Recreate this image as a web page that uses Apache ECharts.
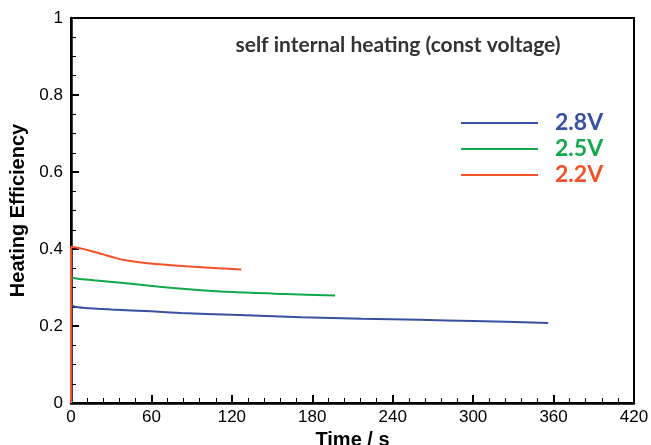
<!DOCTYPE html>
<html><head><meta charset="utf-8">
<script src="https://cdn.jsdelivr.net/npm/echarts@6/dist/echarts.min.js"></script>
<style>html,body{margin:0;padding:0;background:#fff}#c{width:651px;height:445px}</style>
</head><body><div id="c"></div>
<script>
var seriesNames = ['2.8V', '2.5V', '2.2V'];
var seriesColors = ['#3850a2', '#12a94c', '#f2522a'];
var blue28 = [[0,0.256],[3,0.250],[10,0.247],[30,0.243],[60,0.238],[82,0.234],[120,0.229],[172,0.223],[217,0.219],[260,0.216],[300,0.213],[356,0.208]];
var green25 = [[0,0.326],[5,0.323],[17,0.319],[41,0.311],[66,0.302],[90,0.295],[121,0.288],[160,0.283],[197,0.279]];
var red22 = [[0,0],[0,0.406],[8,0.401],[15,0.395],[24,0.386],[33,0.377],[42,0.370],[57,0.363],[75,0.358],[91,0.354],[110,0.350],[127,0.347]];
var xTicks = [0,60,120,180,240,300,360,420];
var yTicks = [0,0.2,0.4,0.6,0.8,1];
var titleText = 'self internal heating (const voltage)';
var xName = 'Time / s';
var yName = 'Heating Efficiency';

var allData = [blue28, green25, red22];
var chart = echarts.init(document.getElementById('c'));
var axisFont = {fontFamily:'Liberation Sans', fontSize:17, color:'#000'};
chart.setOption({
  animation:false,
  title:{text:titleText, left:393, top:30, textAlign:'center',
    textStyle:{fontFamily:'Lato', fontWeight:'bold', fontSize:21, color:'#333'}},
  legend:{orient:'vertical', left:456, top:106, icon:'rect', itemWidth:77, itemHeight:2, itemGap:2,
    data: seriesNames.map(function(n,i){return {name:n, textStyle:{color:seriesColors[i]}};}),
    textStyle:{fontFamily:'Lato', fontWeight:'bold', fontSize:23, lineHeight:24, padding:[0,0,0,12]}},
  grid:{left:71, right:17, top:18, bottom:42, outerBoundsMode:'none', containLabel:false,
    show:true, borderColor:'#000', borderWidth:2},
  xAxis:{type:'value', min:xTicks[0], max:xTicks[xTicks.length-1], interval:60,
    name:xName, nameLocation:'middle', nameGap:21,
    nameTextStyle:{fontFamily:'Liberation Sans', fontWeight:'bold', fontSize:20, color:'#000'},
    axisLine:{show:true, onZero:false, lineStyle:{color:'#000', width:2.5}},
    axisTick:{show:true, inside:true, length:8, lineStyle:{color:'#000', width:2}},
    minorTick:{show:true, splitNumber:5, length:5, lineStyle:{color:'#000', width:1}},
    axisLabel:Object.assign({margin:6}, axisFont),
    splitLine:{show:false}},
  yAxis:{type:'value', min:yTicks[0], max:yTicks[yTicks.length-1], interval:0.2,
    name:yName, nameLocation:'middle', nameGap:42,
    nameTextStyle:{fontFamily:'Liberation Sans', fontWeight:'bold', fontSize:20, color:'#000'},
    axisLine:{show:true, onZero:false, lineStyle:{color:'#000', width:2.5}},
    axisTick:{show:true, inside:true, length:8, lineStyle:{color:'#000', width:2}},
    minorTick:{show:true, splitNumber:4, length:5, lineStyle:{color:'#000', width:1}},
    axisLabel:Object.assign({margin:8}, axisFont),
    splitLine:{show:false}},
  series: seriesNames.map(function(n,i){return {
    name:n, type:'line', data:allData[i], symbol:'none', smooth:0.3,
    color:seriesColors[i], lineStyle:{width:2, color:seriesColors[i]}, z:2+i};})
});
</script></body></html>
